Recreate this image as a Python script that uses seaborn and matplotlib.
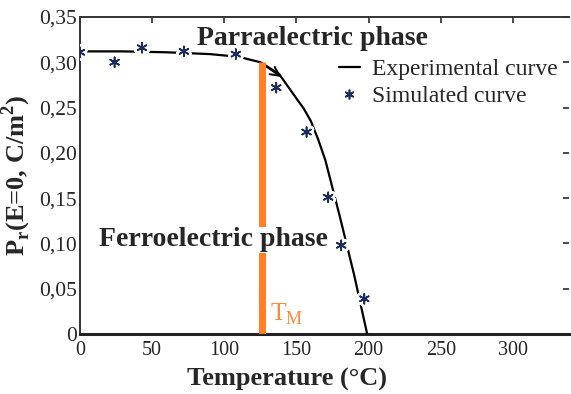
"""
Remanent polarization vs temperature: experimental and simulated curves.
"""

import matplotlib
matplotlib.use("Agg")
import matplotlib.pyplot as plt
import matplotlib.patheffects as pe
from matplotlib.lines import Line2D
import seaborn as sns
import pandas as pd

# experimental curve
exp_temp = [0, 30, 60, 90, 110, 125, 138, 150, 155, 160, 165, 170, 180, 190, 199]
exp_pol = [0.312, 0.312, 0.311, 0.309, 0.306, 0.300, 0.287, 0.260, 0.249, 0.235, 0.215,
           0.192, 0.130, 0.065, 0.0]

# simulated points
sim_temp = [0, 24, 43, 72, 108, 136, 157, 172, 181, 197]
sim_pol = [0.311, 0.300, 0.316, 0.312, 0.309, 0.272, 0.223, 0.151, 0.098, 0.039]

# transition temperature marker
tm_temp = 126
tm_top = 0.300

x_ticks = [0, 50, 100, 150, 200, 250, 300]
y_ticks = [0, 0.05, 0.10, 0.15, 0.20, 0.25, 0.30, 0.35]
y_tick_labels = ["0", "0,05", "0,10", "0,15", "0,20", "0,25", "0,30", "0,35"]

ORANGE = "#FF7F27"
STAR = "#1c2c5c"

sns.set_theme(style="white")
plt.rcParams["font.family"] = ["Liberation Serif", "DejaVu Serif"]
plt.rcParams["mathtext.fontset"] = "custom"
plt.rcParams["mathtext.rm"] = "Liberation Serif"
plt.rcParams["mathtext.bf"] = "Liberation Serif:bold"

exp_df = pd.DataFrame({"T": exp_temp, "P": exp_pol})
sim_df = pd.DataFrame({"T": sim_temp, "P": sim_pol})

fig = plt.figure(figsize=(5.71, 3.94), dpi=100)
ax = fig.add_axes([0.140, 0.152, 0.857, 0.805])

sns.lineplot(data=exp_df, x="T", y="P", ax=ax, color="black", linewidth=1.6,
             sort=False, estimator=None, zorder=3)
ax.annotate("", xy=(exp_temp[6] + 3, exp_pol[6] - 0.005), xytext=(exp_temp[5], exp_pol[5]),
            arrowprops=dict(arrowstyle="->", color="black", lw=1.4, mutation_scale=16),
            zorder=3)

ax.plot([tm_temp, tm_temp], [0, tm_top], color=ORANGE, linewidth=5, zorder=4,
        solid_capstyle="butt")

pts = sns.scatterplot(data=sim_df, x="T", y="P", ax=ax, marker=(6, 2, 0), s=50,
                      color=STAR, linewidth=1.2, zorder=5)
pts.collections[-1].set_path_effects([pe.withStroke(linewidth=5, foreground="white")])
pts.collections[-1].set_edgecolor(STAR)

ax.set_xlim(0, 339)
ax.set_ylim(0, 0.35)
ax.set_xticks(x_ticks)
ax.set_xticklabels([str(t) for t in x_ticks], fontsize=14.5)
ax.set_yticks(y_ticks)
ax.set_yticklabels(y_tick_labels, fontsize=15.5)
ax.tick_params(direction="in", length=4, top=True, right=True, color="#333333")
ax.tick_params(axis="y", pad=2)
ax.tick_params(axis="x", pad=5)

for side in ["left", "top"]:
    ax.spines[side].set_linewidth(1.4)
    ax.spines[side].set_color("#333333")
ax.spines["bottom"].set_linewidth(2.2)
ax.spines["bottom"].set_color("#222222")
ax.spines["right"].set_visible(False)

ax.set_xlabel("Temperature (\u00b0C)", fontsize=19, fontweight="bold")
ax.xaxis.set_label_coords(0.423, -0.105)
ax.set_ylabel(r"P$_{\mathbf{r}}$(E=0, C/m$^{\mathbf{2}}$)", fontsize=19, fontweight="bold")
ax.yaxis.set_label_coords(-0.096, 0.5)

ax.text(81, 0.326, "Parraelectric phase", fontsize=20, fontweight="bold", ha="left",
        va="center")
ax.text(13, 0.104, "Ferroelectric phase", fontsize=20, fontweight="bold", ha="left",
        va="center", zorder=6,
        bbox=dict(facecolor="white", edgecolor="none", pad=0.5))
ax.text(132, 0.022, r"T$_{\mathrm{M}}$", fontsize=18.5, color="#FF8A3D", ha="left",
        va="center")

handles = [Line2D([0], [0], color="black", linewidth=1.6),
           Line2D([0], [0], color=STAR, marker=(6, 2, 0), linestyle="none",
                  markersize=7, markeredgewidth=1.2)]
ax.legend(handles, ["Experimental curve", "Simulated curve"], loc="upper right",
          bbox_to_anchor=(1.0, 0.905), frameon=False, fontsize=17, handlelength=0.9,
          handletextpad=0.5, labelspacing=0.22, borderaxespad=0.1)

fig.savefig("out.png", dpi=100)
